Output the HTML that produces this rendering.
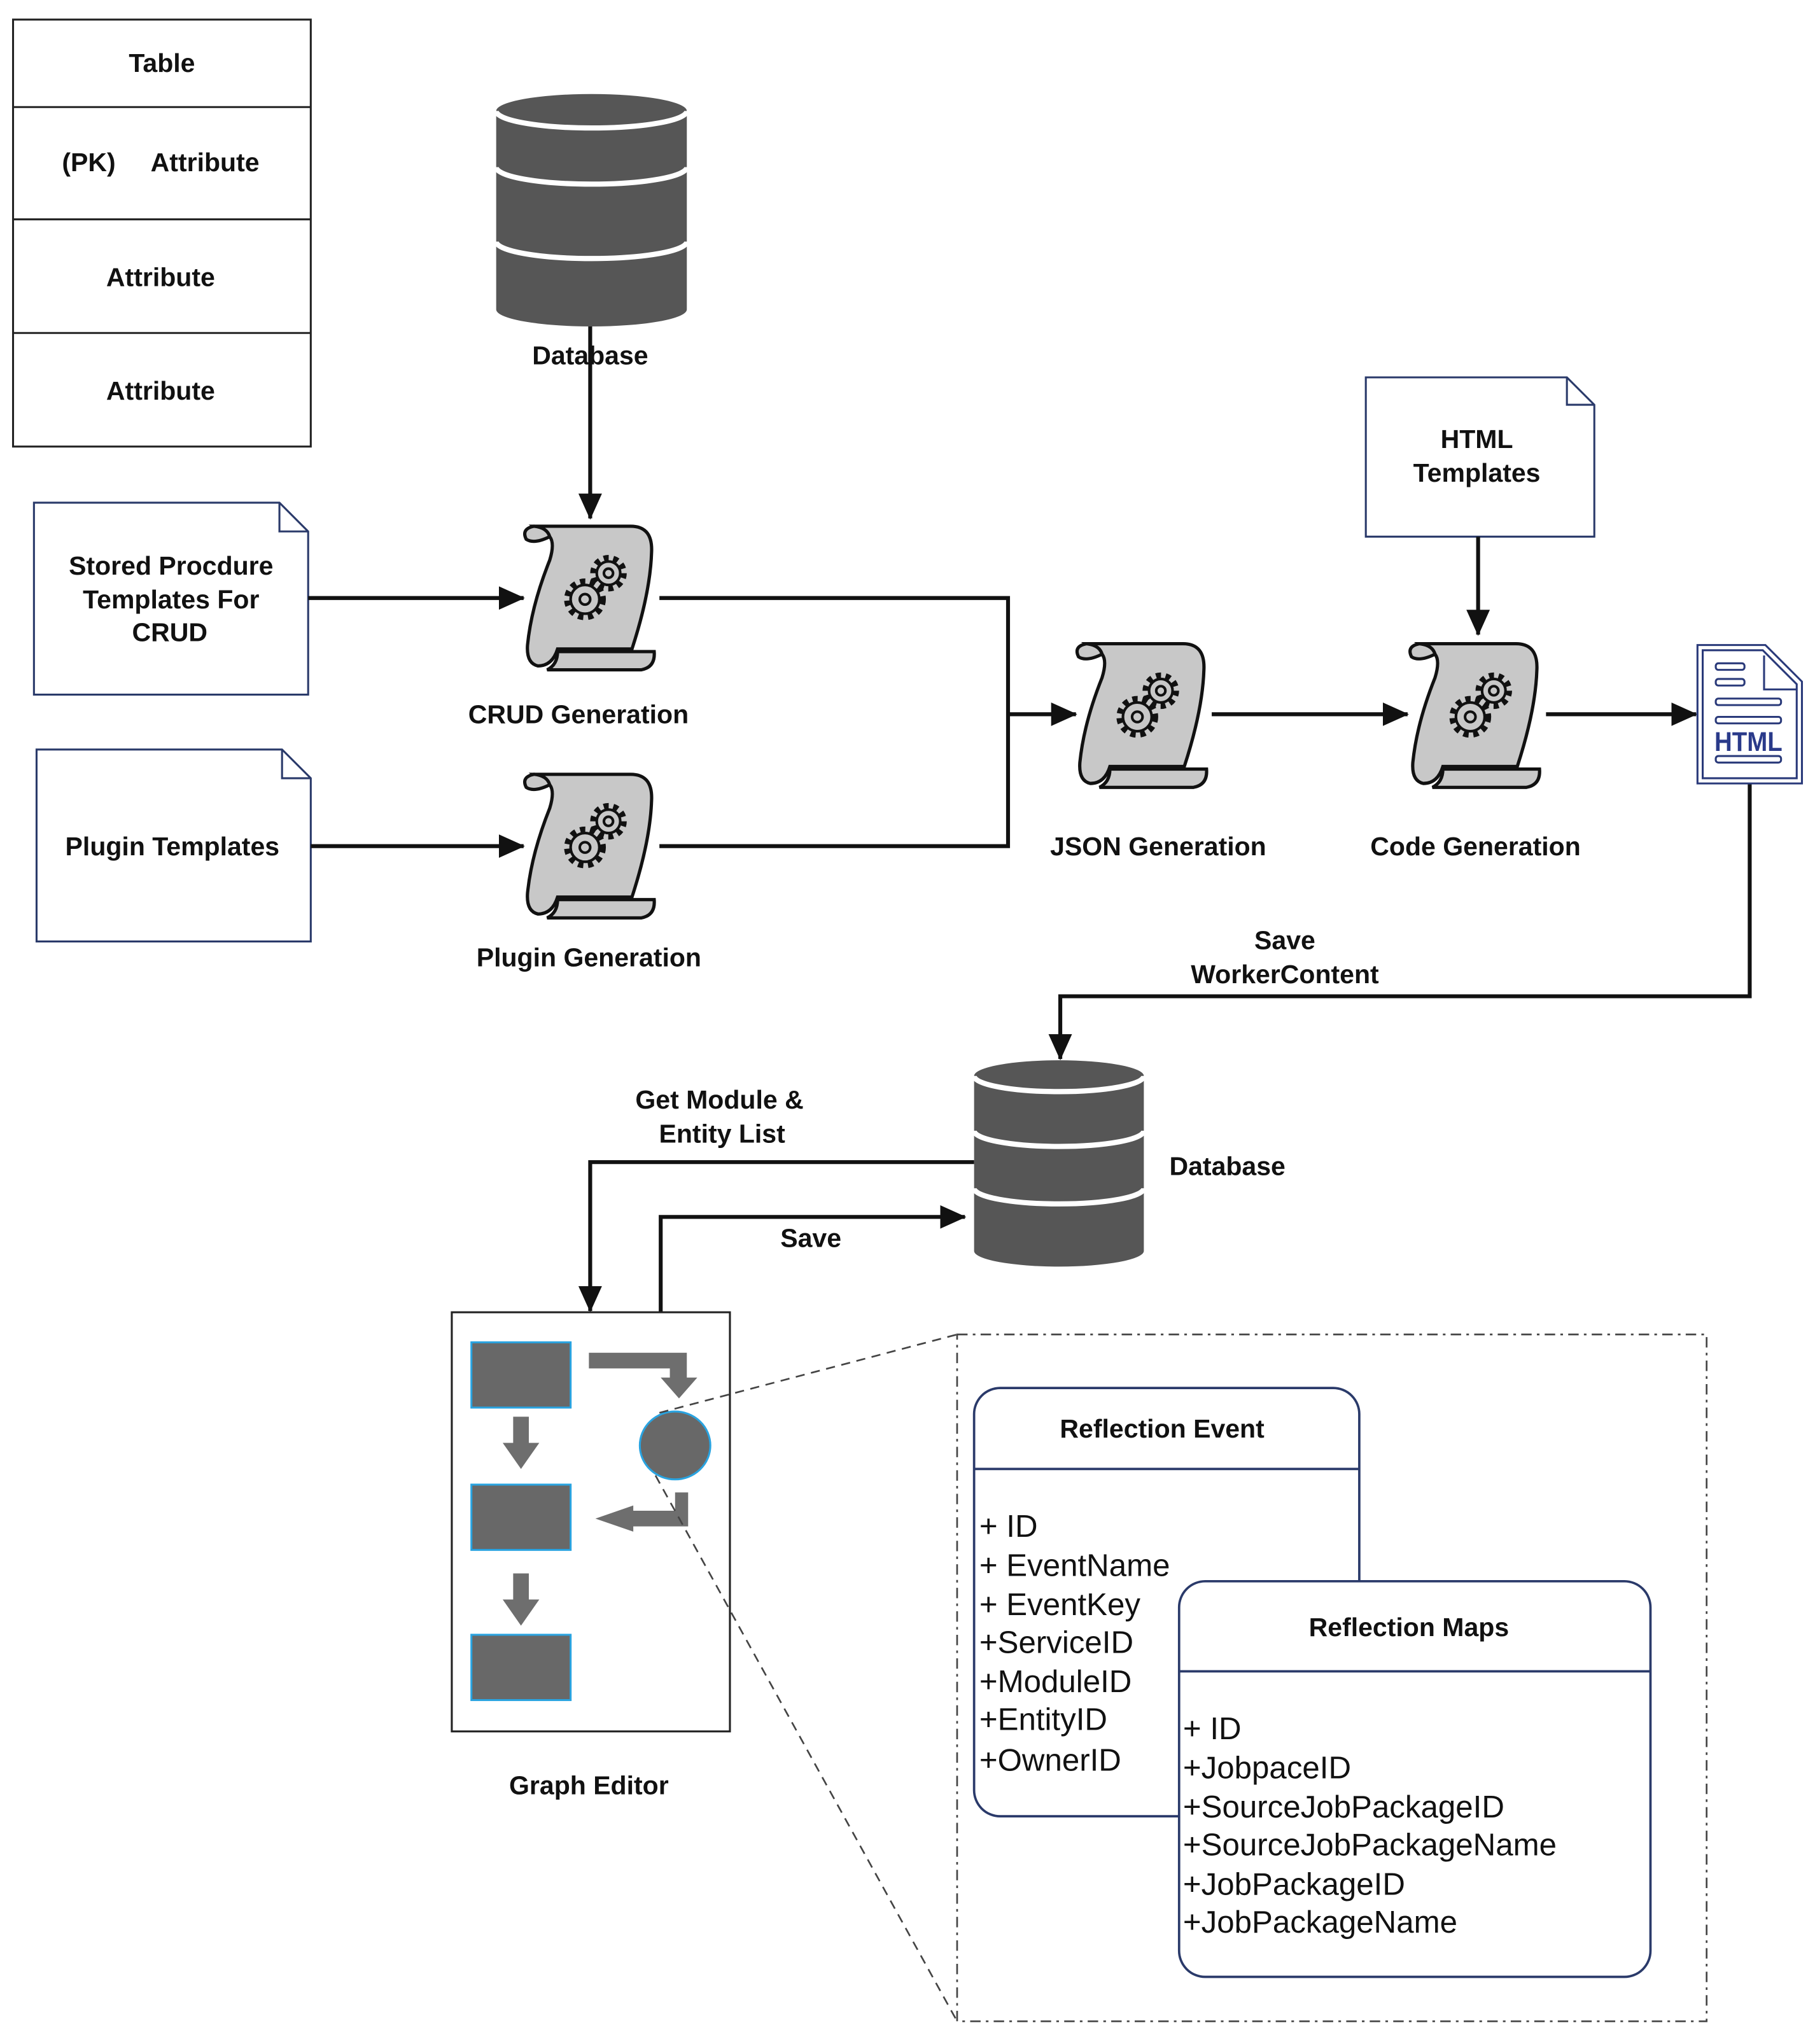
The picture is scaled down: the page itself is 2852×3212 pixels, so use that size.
<!DOCTYPE html>
<html><head><meta charset="utf-8"><style>html,body{margin:0;padding:0;background:#fff}svg{display:block}</style></head>
<body>
<svg width="2852" height="3212" viewBox="0 0 1390 1565.4" preserveAspectRatio="none" xmlns="http://www.w3.org/2000/svg" font-family="Liberation Sans, sans-serif">
<defs>
<marker id="ah" markerWidth="20" markerHeight="18" refX="19" refY="9" orient="auto" markerUnits="userSpaceOnUse" viewBox="0 0 20 18"><path d="M0,0 L20,9 L0,18 Z" fill="#111"/></marker>
<g id="scroll">
<path d="M28,100 L102,100 Q103,112 92,114 L20,114 Q28,110 28,100 Z" fill="#c8c8c8" stroke="#111" stroke-width="2.5"/>
<path d="M10,4 L84,4 Q101,4 100,24 Q99,55 85,98 L28,98 Q24,111 13,111 Q4,109 5,95 Q8,65 22,30 Q26,17 22,12 Z" fill="#c8c8c8" stroke="#111" stroke-width="2.5"/>
<path d="M22,12 Q10,18 4,14 Q0,6 10,4 Q20,5 22,12 Z" fill="#c8c8c8" stroke="#111" stroke-width="2.5"/>
<circle cx="67" cy="40" r="11" fill="none" stroke="#111" stroke-width="6" stroke-dasharray="3.6 3.3"/>
<circle cx="67" cy="40" r="9" fill="#c8c8c8" stroke="#111" stroke-width="2"/>
<circle cx="67" cy="40" r="3.5" fill="none" stroke="#111" stroke-width="2"/>
<circle cx="49" cy="60" r="13" fill="none" stroke="#111" stroke-width="6" stroke-dasharray="3.8 3.4"/>
<circle cx="49" cy="60" r="11" fill="#c8c8c8" stroke="#111" stroke-width="2"/>
<circle cx="49" cy="60" r="4" fill="none" stroke="#111" stroke-width="2"/>
</g>
</defs>
<g font-weight="bold" font-size="20" fill="#111" text-anchor="middle">
<!-- Table -->
<rect x="10" y="15" width="228" height="327" fill="#fff" stroke="#222" stroke-width="1.5"/>
<line x1="10" y1="82" x2="238" y2="82" stroke="#222" stroke-width="1.5"/>
<line x1="10" y1="168" x2="238" y2="168" stroke="#222" stroke-width="1.5"/>
<line x1="10" y1="255" x2="238" y2="255" stroke="#222" stroke-width="1.5"/>
<text x="124" y="55">Table</text>
<text x="68" y="131">(PK)</text>
<text x="157" y="131">Attribute</text>
<text x="123" y="219">Attribute</text>
<text x="123" y="306">Attribute</text>

<!-- Database 1 -->
<path d="M380,85 A73,13 0 0 1 526,85 L526,237 A73,13 0 0 1 380,237 Z" fill="#565656"/>
<path d="M380,128 A73,13 0 0 0 526,128" fill="none" stroke="#fff" stroke-width="4"/>
<path d="M380,185 A73,13 0 0 0 526,185" fill="none" stroke="#fff" stroke-width="4"/>
<path d="M380,85 A73,13 0 0 0 526,85" fill="none" stroke="#fff" stroke-width="4"/>
<line x1="452" y1="250" x2="452" y2="397" stroke="#111" stroke-width="3" marker-end="url(#ah)"/>
<text x="452" y="279">Database</text>

<!-- docs -->
<path d="M26,385 L214,385 L236,407 L236,532 L26,532 Z" fill="#fff" stroke="#2a3a6a" stroke-width="1.5"/>
<path d="M214,385 L214,407 L236,407" fill="none" stroke="#2a3a6a" stroke-width="1.5"/>
<text x="131" y="440">Stored Procdure</text>
<text x="131" y="466">Templates For</text>
<text x="130" y="491">CRUD</text>
<path d="M28,574 L216,574 L238,596 L238,721 L28,721 Z" fill="#fff" stroke="#2a3a6a" stroke-width="1.5"/>
<path d="M216,574 L216,596 L238,596" fill="none" stroke="#2a3a6a" stroke-width="1.5"/>
<text x="132" y="655">Plugin Templates</text>
<path d="M1046,289 L1200,289 L1221,310 L1221,411 L1046,411 Z" fill="#fff" stroke="#2a3a6a" stroke-width="1.5"/>
<path d="M1200,289 L1200,310 L1221,310" fill="none" stroke="#2a3a6a" stroke-width="1.5"/>
<text x="1131" y="343">HTML</text>
<text x="1131" y="369">Templates</text>

<!-- scrolls -->
<use href="#scroll" x="399" y="399"/>
<use href="#scroll" x="399" y="589"/>
<use href="#scroll" x="822" y="489"/>
<use href="#scroll" x="1077" y="489"/>
<text x="443" y="554">CRUD Generation</text>
<text x="451" y="740">Plugin Generation</text>
<text x="887" y="655">JSON Generation</text>
<text x="1130" y="655">Code Generation</text>

<!-- connectors -->
<g stroke="#111" stroke-width="3" fill="none">
<line x1="236" y1="458" x2="401" y2="458" marker-end="url(#ah)"/>
<line x1="238" y1="648" x2="401" y2="648" marker-end="url(#ah)"/>
<polyline points="505,458 772,458 772,648 505,648"/>
<line x1="772" y1="547" x2="824" y2="547" marker-end="url(#ah)"/>
<line x1="928" y1="547" x2="1078" y2="547" marker-end="url(#ah)"/>
<line x1="1184" y1="547" x2="1299" y2="547" marker-end="url(#ah)"/>
<line x1="1132" y1="411" x2="1132" y2="486" marker-end="url(#ah)"/>
<polyline points="1340,600 1340,763 812,763 812,811" marker-end="url(#ah)"/>
<polyline points="746,890 452,890 452,1004" marker-end="url(#ah)"/>
<polyline points="506,1005 506,932 739,932" marker-end="url(#ah)"/>
</g>

<!-- HTML icon -->
<g stroke="#2a3a7a" stroke-width="1.5" fill="#fff">
<path d="M1300,494 L1352,494 L1380,522 L1380,600 L1300,600 Z"/>
<path d="M1304,498 L1350,498 L1376,524 L1376,596 L1304,596 Z"/>
<path d="M1351,502 L1351,528 L1376,528" fill="none"/>
<rect x="1314" y="508" width="22" height="5" rx="2"/>
<rect x="1314" y="520" width="22" height="5" rx="2"/>
<rect x="1314" y="535" width="50" height="5" rx="2"/>
<rect x="1314" y="549" width="50" height="5" rx="2"/>
<rect x="1314" y="579" width="50" height="5" rx="2"/>
</g>
<text x="1339" y="575" fill="#2a3a8a" font-size="21" textLength="52" lengthAdjust="spacingAndGlyphs">HTML</text>

<text x="984" y="727">Save</text>
<text x="984" y="753">WorkerContent</text>

<!-- Database 2 -->
<path d="M746,824 A65,12 0 0 1 876,824 L876,958 A65,12 0 0 1 746,958 Z" fill="#565656"/>
<path d="M746,824 A65,12 0 0 0 876,824" fill="none" stroke="#fff" stroke-width="4"/>
<path d="M746,866 A65,12 0 0 0 876,866" fill="none" stroke="#fff" stroke-width="4"/>
<path d="M746,910 A65,12 0 0 0 876,910" fill="none" stroke="#fff" stroke-width="4"/>
<text x="940" y="900">Database</text>
<text x="551" y="849">Get Module &amp;</text>
<text x="553" y="875">Entity List</text>
<text x="621" y="955">Save</text>

<!-- Graph editor -->
<rect x="346" y="1005" width="213" height="321" fill="#fff" stroke="#222" stroke-width="1.5"/>
<g fill="#686868" stroke="#29a3e0" stroke-width="1.5">
<rect x="361" y="1028" width="76" height="50"/>
<rect x="361" y="1137" width="76" height="50"/>
<rect x="361" y="1252" width="76" height="50"/>
<ellipse cx="517" cy="1107" rx="27" ry="26"/>
</g>
<g fill="#6e6e6e">
<path d="M393,1085 L405,1085 L405,1105 L413,1105 L399,1125 L385,1105 L393,1105 Z"/>
<path d="M393,1205 L405,1205 L405,1225 L413,1225 L399,1245 L385,1225 L393,1225 Z"/>
<path d="M451,1036 L526,1036 L526,1055 L534,1055 L520,1071 L506,1055 L513,1055 L513,1048 L451,1048 Z"/>
<path d="M517,1143 L527,1143 L527,1169 L485,1169 L485,1173 L456,1163 L485,1153 L485,1157 L517,1157 Z"/>
</g>
<text x="451" y="1374">Graph Editor</text>

<!-- dashed -->
<rect x="733" y="1022" width="574" height="526" fill="none" stroke="#444" stroke-width="1.3" stroke-dasharray="8 4 2 4"/>
<line x1="505" y1="1082" x2="733" y2="1022" stroke="#444" stroke-width="1.3" stroke-dasharray="7 5"/>
<line x1="502" y1="1130" x2="733" y2="1548" stroke="#444" stroke-width="1.3" stroke-dasharray="7 5"/>

<!-- Reflection Event -->
<rect x="746" y="1063" width="295" height="328" rx="20" fill="#fff" stroke="#2a3a6a" stroke-width="1.8"/>
<line x1="746" y1="1125" x2="1041" y2="1125" stroke="#2a3a6a" stroke-width="1.8"/>
<text x="890" y="1101">Reflection Event</text>
<g font-weight="normal" font-size="24" text-anchor="start">
<text x="750" y="1177">+ ID</text>
<text x="750" y="1207">+ EventName</text>
<text x="750" y="1237">+ EventKey</text>
<text x="750" y="1266">+ServiceID</text>
<text x="750" y="1296">+ModuleID</text>
<text x="750" y="1325">+EntityID</text>
<text x="750" y="1356">+OwnerID</text>
</g>
<!-- Reflection Maps -->
<rect x="903" y="1211" width="361" height="303" rx="20" fill="#fff" stroke="#2a3a6a" stroke-width="1.8"/>
<line x1="903" y1="1280" x2="1264" y2="1280" stroke="#2a3a6a" stroke-width="1.8"/>
<text x="1079" y="1253">Reflection Maps</text>
<g font-weight="normal" font-size="24" text-anchor="start">
<text x="906" y="1332">+ ID</text>
<text x="906" y="1362">+JobpaceID</text>
<text x="906" y="1392">+SourceJobPackageID</text>
<text x="906" y="1421">+SourceJobPackageName</text>
<text x="906" y="1451">+JobPackageID</text>
<text x="906" y="1480">+JobPackageName</text>
</g>
</g>
</svg>
</body></html>
